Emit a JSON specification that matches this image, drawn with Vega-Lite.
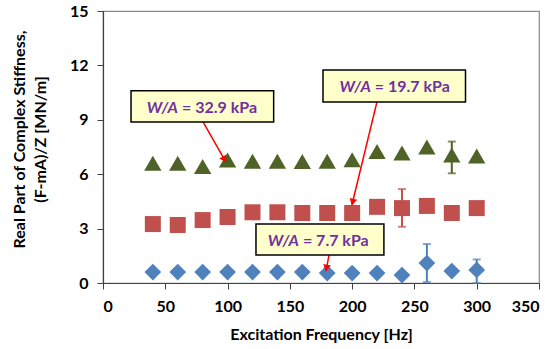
{
  "$schema": "https://vega.github.io/schema/vega-lite/v6.json",
  "width": 436,
  "height": 272,
  "autosize": "none",
  "padding": {"left": 103, "top": 11, "right": 17, "bottom": 66},
  "background": "white",
  "config": {
    "font": "Lato",
    "view": {"stroke": "#8a8a8a", "strokeWidth": 1.2},
    "axis": {
      "grid": false,
      "domainColor": "#404040",
      "domainWidth": 1.2,
      "tickColor": "#404040",
      "tickSize": 6,
      "labelFont": "Lato",
      "labelFontSize": 16,
      "labelFontWeight": "bold",
      "labelColor": "#000000",
      "titleFont": "Lato",
      "titleFontSize": 16,
      "titleFontWeight": "bold",
      "titleColor": "#000000"
    }
  },
  "datasets": {
    "pts": [
      {"s": "32.9", "f": 40, "k": 6.6}, {"s": "32.9", "f": 60, "k": 6.6}, {"s": "32.9", "f": 80, "k": 6.42},
      {"s": "32.9", "f": 100, "k": 6.78}, {"s": "32.9", "f": 120, "k": 6.72}, {"s": "32.9", "f": 140, "k": 6.72},
      {"s": "32.9", "f": 160, "k": 6.7}, {"s": "32.9", "f": 180, "k": 6.72}, {"s": "32.9", "f": 200, "k": 6.8},
      {"s": "32.9", "f": 220, "k": 7.25}, {"s": "32.9", "f": 240, "k": 7.17}, {"s": "32.9", "f": 260, "k": 7.5},
      {"s": "32.9", "f": 280, "k": 7.06}, {"s": "32.9", "f": 300, "k": 7.0},
      {"s": "19.7", "f": 40, "k": 3.25}, {"s": "19.7", "f": 60, "k": 3.2}, {"s": "19.7", "f": 80, "k": 3.47},
      {"s": "19.7", "f": 100, "k": 3.64}, {"s": "19.7", "f": 120, "k": 3.9}, {"s": "19.7", "f": 140, "k": 3.9},
      {"s": "19.7", "f": 160, "k": 3.86}, {"s": "19.7", "f": 180, "k": 3.86}, {"s": "19.7", "f": 200, "k": 3.86},
      {"s": "19.7", "f": 220, "k": 4.2}, {"s": "19.7", "f": 240, "k": 4.13}, {"s": "19.7", "f": 260, "k": 4.25},
      {"s": "19.7", "f": 280, "k": 3.86}, {"s": "19.7", "f": 300, "k": 4.13},
      {"s": "7.7", "f": 40, "k": 0.6}, {"s": "7.7", "f": 60, "k": 0.6}, {"s": "7.7", "f": 80, "k": 0.6},
      {"s": "7.7", "f": 100, "k": 0.6}, {"s": "7.7", "f": 120, "k": 0.6}, {"s": "7.7", "f": 140, "k": 0.6},
      {"s": "7.7", "f": 160, "k": 0.6}, {"s": "7.7", "f": 180, "k": 0.55}, {"s": "7.7", "f": 200, "k": 0.55},
      {"s": "7.7", "f": 220, "k": 0.55}, {"s": "7.7", "f": 240, "k": 0.44}, {"s": "7.7", "f": 260, "k": 1.1},
      {"s": "7.7", "f": 280, "k": 0.66}, {"s": "7.7", "f": 300, "k": 0.72}
    ],
    "err": [
      {"s": "32.9", "f": 280, "lo": 6.05, "hi": 7.8},
      {"s": "19.7", "f": 240, "lo": 3.1, "hi": 5.18},
      {"s": "7.7", "f": 260, "lo": 0.05, "hi": 2.15},
      {"s": "7.7", "f": 300, "lo": 0.0, "hi": 1.3}
    ],
    "boxes": [
      {"s": "32.9", "x1": 22.5, "x2": 137, "y1": 8.88, "y2": 10.6, "tx": 60.2, "ty": 9.65, "t1": "W/A", "t2": "= 32.9 kPa"},
      {"s": "19.7", "x1": 176.6, "x2": 291, "y1": 9.98, "y2": 11.75, "tx": 215, "ty": 10.81, "t1": "W/A", "t2": "= 19.7 kPa"},
      {"s": "7.7", "x1": 122.8, "x2": 225.5, "y1": 1.54, "y2": 3.25, "tx": 157.3, "ty": 2.32, "t1": "W/A", "t2": "= 7.7 kPa"}
    ],
    "arrows": [
      {"s": "32.9", "x1": 80.3, "y1": 8.88, "x2": 98.7, "y2": 6.67, "hx": 97.5, "hy": 6.81},
      {"s": "19.7", "x1": 219.9, "y1": 9.98, "x2": 199.8, "y2": 4.3, "hx": 200.4, "hy": 4.46},
      {"s": "7.7", "x1": 181.4, "y1": 1.54, "x2": 179, "y2": 0.66, "hx": 179.4, "hy": 0.82}
    ]
  },
  "encoding": {
    "x": {"type": "quantitative", "scale": {"domain": [0, 350], "nice": false},
          "axis": {"title": "Excitation Frequency [Hz]", "values": [0, 50, 100, 150, 200, 250, 300, 350], "labelPadding": 9, "titlePadding": 12}},
    "y": {"type": "quantitative", "scale": {"domain": [0, 15], "nice": false},
          "axis": {"title": ["Real Part of Complex Stiffness,", "(F-mA)/Z [MN/m]"], "values": [0, 3, 6, 9, 12, 15],
                   "labelPadding": 9, "titleAngle": -90, "titleX": -92, "titleY": 128, "titleAlign": "center",
                   "titleBaseline": "top", "titleLineHeight": 21}}
  },
  "layer": [
    {
      "data": {"name": "pts"},
      "transform": [{"filter": "datum.s === '32.9'"}],
      "mark": {"type": "point", "shape": "triangle-up", "filled": true, "opacity": 1, "color": "#4F6228", "size": 300},
      "encoding": {"x": {"field": "f"}, "y": {"field": "k"}}
    },
    {
      "data": {"name": "pts"},
      "transform": [{"filter": "datum.s === '19.7'"}],
      "mark": {"type": "point", "shape": "square", "filled": true, "opacity": 1, "color": "#C0504D", "size": 256},
      "encoding": {"x": {"field": "f"}, "y": {"field": "k"}}
    },
    {
      "data": {"name": "pts"},
      "transform": [{"filter": "datum.s === '7.7'"}],
      "mark": {"type": "point", "shape": "diamond", "filled": true, "opacity": 1, "color": "#4F81BD", "size": 280},
      "encoding": {"x": {"field": "f"}, "y": {"field": "k"}}
    },
    {
      "data": {"name": "err"},
      "mark": {"type": "rule", "strokeWidth": 2},
      "encoding": {"x": {"field": "f"}, "y": {"field": "lo"}, "y2": {"field": "hi"},
                   "color": {"field": "s", "type": "nominal", "scale": {"domain": ["32.9", "19.7", "7.7"], "range": ["#4F6228", "#C0504D", "#4F81BD"]}, "legend": null}}
    },
    {
      "data": {"name": "err"},
      "mark": {"type": "tick", "orient": "horizontal", "size": 8, "thickness": 2},
      "encoding": {"x": {"field": "f"}, "y": {"field": "lo"},
                   "color": {"field": "s", "type": "nominal", "legend": null}}
    },
    {
      "data": {"name": "err"},
      "mark": {"type": "tick", "orient": "horizontal", "size": 8, "thickness": 2},
      "encoding": {"x": {"field": "f"}, "y": {"field": "hi"},
                   "color": {"field": "s", "type": "nominal", "legend": null}}
    },
    {
      "data": {"name": "arrows"},
      "mark": {"type": "rule", "color": "#FF0000", "strokeWidth": 1.5},
      "encoding": {"x": {"field": "x1"}, "y": {"field": "y1"}, "x2": {"field": "x2"}, "y2": {"field": "y2"}}
    },
    {
      "data": {"name": "arrows"},
      "transform": [{"filter": "datum.s === '32.9'"}],
      "mark": {"type": "point", "shape": "triangle-up", "filled": true, "opacity": 1, "color": "#FF0000", "size": 60, "angle": 150},
      "encoding": {"x": {"field": "hx"}, "y": {"field": "hy"}}
    },
    {
      "data": {"name": "arrows"},
      "transform": [{"filter": "datum.s === '19.7'"}],
      "mark": {"type": "point", "shape": "triangle-up", "filled": true, "opacity": 1, "color": "#FF0000", "size": 60, "angle": 193.6},
      "encoding": {"x": {"field": "hx"}, "y": {"field": "hy"}}
    },
    {
      "data": {"name": "arrows"},
      "transform": [{"filter": "datum.s === '7.7'"}],
      "mark": {"type": "point", "shape": "triangle-up", "filled": true, "opacity": 1, "color": "#FF0000", "size": 60, "angle": 190.6},
      "encoding": {"x": {"field": "hx"}, "y": {"field": "hy"}}
    },
    {
      "data": {"name": "boxes"},
      "mark": {"type": "rect", "fill": "#FFFFCC", "stroke": "#000000", "strokeWidth": 1.5},
      "encoding": {"x": {"field": "x1"}, "x2": {"field": "x2"}, "y": {"field": "y1"}, "y2": {"field": "y2"}}
    },
    {
      "data": {"name": "boxes"},
      "mark": {"type": "text", "align": "right", "baseline": "middle", "fontSize": 16, "fontWeight": "bold", "fontStyle": "italic", "color": "#7030A0", "font": "Lato"},
      "encoding": {"x": {"field": "tx"}, "y": {"field": "ty"}, "text": {"field": "t1"}}
    },
    {
      "data": {"name": "boxes"},
      "mark": {"type": "text", "align": "left", "baseline": "middle", "dx": 4, "fontSize": 16, "fontWeight": "bold", "color": "#7030A0", "font": "Lato"},
      "encoding": {"x": {"field": "tx"}, "y": {"field": "ty"}, "text": {"field": "t2"}}
    }
  ]
}
